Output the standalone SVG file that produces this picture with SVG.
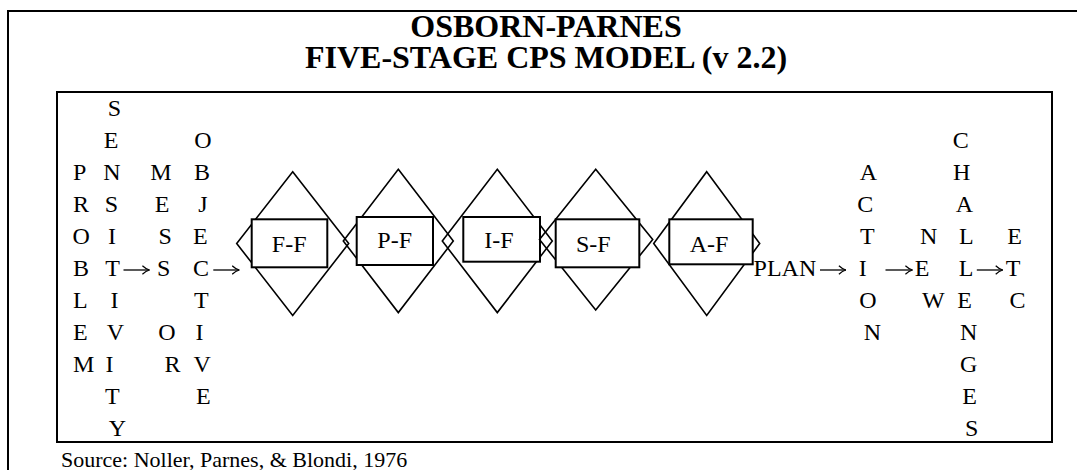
<svg xmlns="http://www.w3.org/2000/svg" width="1077" height="470" viewBox="0 0 1077 470">
  <style>
    .serif { font-family: "Liberation Serif", "Times New Roman", serif; fill: #000; }
    .title { font-size: 32px; font-weight: bold; text-anchor: middle; }
    .col { font-size: 24px; }
    .mid { text-anchor: middle; }
    .frame { fill: none; stroke: #000; stroke-width: 2; }
    .diamond { fill: none; stroke: #000; stroke-width: 1.6; stroke-linejoin: miter; }
    .box { fill: #fff; stroke: #000; stroke-width: 2; }
    .label { font-size: 24px; text-anchor: middle; }
    .source { font-size: 22px; }
    .arrow { fill: none; stroke: #000; stroke-width: 1.3; marker-end: url(#head); }
  </style>
  <defs>
    <!-- open arrowhead in the style of a serif right-arrow glyph -->
    <marker id="head" markerUnits="userSpaceOnUse" viewBox="0 0 8 10" refX="7.6" refY="5" markerWidth="8" markerHeight="10" orient="auto">
      <path d="M0.5,0.8 Q4,4.2 7.6,5 Q4,5.8 0.5,9.2" fill="none" stroke="#000" stroke-width="1.2"/>
    </marker>
  </defs>

  <!-- outer page frame and inner model frame -->
  <g id="frame">
    <rect class="frame" x="8" y="11" width="1100" height="500"/>
    <rect class="frame" x="57" y="92" width="995" height="350"/>
  </g>

  <g id="title">
    <text class="serif title" x="546" y="37">OSBORN-PARNES</text>
    <text class="serif title" x="546" y="68">FIVE-STAGE CPS MODEL (v 2.2)</text>
  </g>

  <!-- vertical word columns; row baselines step 32px from 115.5 -->
  <g id="col-problem">
    <text class="serif col">
      <tspan x="73" y="179.5">P</tspan>
      <tspan x="73" y="211.5">R</tspan>
      <tspan x="72.5" y="243.5">O</tspan>
      <tspan x="73" y="275.5">B</tspan>
      <tspan x="73" y="307.5">L</tspan>
      <tspan x="73" y="339.5">E</tspan>
      <tspan x="73" y="371.5">M</tspan>
    </text>
  </g>

  <g id="col-sensitivity">
    <text class="serif col mid">
      <tspan x="117.5" y="115.5">S</tspan>
      <tspan x="114" y="147.5">E</tspan>
      <tspan x="115" y="179.5">N</tspan>
      <tspan x="114.5" y="211.5">S</tspan>
      <tspan x="115" y="243.5">I</tspan>
      <tspan x="115.3" y="275.5">T</tspan>
      <tspan x="117.5" y="307.5">I</tspan>
      <tspan x="118.3" y="339.5">V</tspan>
      <tspan x="112.5" y="371.5">I</tspan>
      <tspan x="115" y="403.5">T</tspan>
      <tspan x="117.5" y="435.5">Y</tspan>
    </text>
  </g>

  <g id="col-messor">
    <text class="serif col mid">
      <tspan x="164" y="179.5">M</tspan>
      <tspan x="165" y="211.5">E</tspan>
      <tspan x="168.3" y="243.5">S</tspan>
      <tspan x="166.7" y="275.5">S</tspan>
      <tspan x="170" y="339.5">O</tspan>
      <tspan x="172.5" y="371.5">R</tspan>
    </text>
  </g>

  <g id="col-objective">
    <text class="serif col mid">
      <tspan x="205.8" y="147.5">O</tspan>
      <tspan x="205" y="179.5">B</tspan>
      <tspan x="205.8" y="211.5">J</tspan>
      <tspan x="203.3" y="243.5">E</tspan>
      <tspan x="204.1" y="275.5">C</tspan>
      <tspan x="204" y="307.5">T</tspan>
      <tspan x="202.5" y="339.5">I</tspan>
      <tspan x="205" y="371.5">V</tspan>
      <tspan x="203.3" y="403.5">E</tspan>
    </text>
  </g>

  <!-- five stages: diamond, boxed stage name -->
  <g id="stage-ff">
    <polygon class="diamond" points="292.7,171.7 348.7,243.5 292.7,315.4 236.7,243.5"/>
    <rect class="box" x="251.7" y="219.3" width="75.6" height="48"/>
    <text class="serif label" x="289.2" y="251.7">F-F</text>
  </g>

  <g id="stage-pf">
    <polygon class="diamond" points="398.3,169.3 453.3,241 398.3,312.6 343.3,241"/>
    <rect class="box" x="356.7" y="217" width="76.3" height="48"/>
    <text class="serif label" x="394.7" y="248.3">P-F</text>
  </g>

  <g id="stage-if">
    <polygon class="diamond" points="497.3,169.3 552.3,241 497.3,312.6 442.3,241"/>
    <rect class="box" x="463.3" y="217" width="76.7" height="44.7"/>
    <text class="serif label" x="499" y="248.3">I-F</text>
  </g>

  <g id="stage-sf">
    <polygon class="diamond" points="595.7,169.3 652.7,239.6 595.7,309.9 539.5,239.6"/>
    <rect class="box" x="555.7" y="219.3" width="83.6" height="48"/>
    <text class="serif label" x="593.3" y="251.7">S-F</text>
  </g>

  <g id="stage-af">
    <polygon class="diamond" points="706.7,171.7 759.7,243.5 706.7,315.4 653.7,243.5"/>
    <rect class="box" x="669.3" y="219.3" width="83.4" height="45"/>
    <text class="serif label" x="709" y="251.7">A-F</text>
  </g>

  <g id="col-plan">
    <text class="serif col" x="753.6" y="275.5">PLAN</text>
  </g>

  <g id="col-action">
    <text class="serif col mid">
      <tspan x="870.8" y="179.5">A</tspan>
      <tspan x="868.3" y="211.5">C</tspan>
      <tspan x="870" y="243.5">T</tspan>
      <tspan x="865.8" y="275.5">I</tspan>
      <tspan x="870.8" y="307.5">O</tspan>
      <tspan x="872.5" y="339.5">N</tspan>
    </text>
  </g>

  <g id="col-new">
    <text class="serif col mid">
      <tspan x="931.7" y="243.5">N</tspan>
      <tspan x="925" y="275.5">E</tspan>
      <tspan x="933.3" y="307.5">W</tspan>
    </text>
  </g>

  <g id="col-challenges">
    <text class="serif col mid">
      <tspan x="963.8" y="147.5">C</tspan>
      <tspan x="964.7" y="179.5">H</tspan>
      <tspan x="966.7" y="211.5">A</tspan>
      <tspan x="969" y="243.5">L</tspan>
      <tspan x="968.7" y="275.5">L</tspan>
      <tspan x="967.5" y="307.5">E</tspan>
      <tspan x="971.7" y="339.5">N</tspan>
      <tspan x="971.7" y="371.5">G</tspan>
      <tspan x="972.5" y="403.5">E</tspan>
      <tspan x="971.7" y="435.5">S</tspan>
    </text>
  </g>

  <g id="col-etc">
    <text class="serif col mid">
      <tspan x="1017.5" y="243.5">E</tspan>
      <tspan x="1015.8" y="275.5">T</tspan>
      <tspan x="1017.5" y="307.5">C</tspan>
    </text>
  </g>

  <!-- right arrows linking the words and stages along the shared row -->
  <g id="connectors">
    <path class="arrow" d="M123.5,270 H149.5"/>
    <path class="arrow" d="M213.3,270 H239.3"/>
    <path class="arrow" d="M820,270 H846"/>
    <path class="arrow" d="M885.5,270 H912.5"/>
    <path class="arrow" d="M976.8,270 H1002.8"/>
  </g>

  <g id="source">
    <text class="serif source" x="61" y="467">Source: Noller, Parnes, &amp; Blondi, 1976</text>
  </g>
</svg>
